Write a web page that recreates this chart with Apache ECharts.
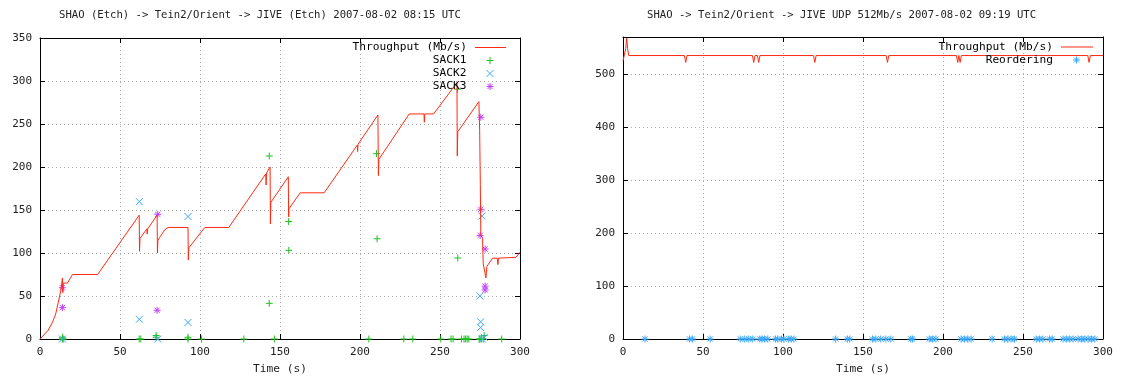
<!DOCTYPE html>
<html>
<head>
<meta charset="utf-8">
<script src="https://cdn.jsdelivr.net/npm/echarts@6/dist/echarts.min.js"></script>
<style>
html,body{margin:0;padding:0;background:#fff;}
#c{width:1121px;height:380px;}
</style>
</head>
<body>
<div id="c"></div>
<script>
// ---------- titles / labels ----------
const leftTitle = 'SHAO (Etch) -> Tein2/Orient -> JIVE (Etch) 2007-08-02 08:15 UTC';
const rightTitle = 'SHAO -> Tein2/Orient -> JIVE UDP 512Mb/s 2007-08-02 09:19 UTC';
const xName = 'Time (s)';
const throughputName = 'Throughput (Mb/s)';
const sackNames = ['SACK1', 'SACK2', 'SACK3'];
const reorderName = 'Reordering';

// ---------- left chart data: [time s, value] ----------
const leftThroughput = [[0,0],[5,10],[7.7,19],[9.8,29],[13,56],[14,71],[14.3,54],[14.6,65],[17.2,65],[20.3,75],[36,75],
  [62,144],[62.2,102],[62.5,117],[66.8,128],[67,122],[67.3,128],[73.2,144],[73.4,100],[73.7,115],[78,127],[80,129.7],
  [92.5,129.7],[92.7,92],[93,106],[103,129.7],[118,129.7],[141.1,192],[141.3,179],[141.6,193],[143.8,200],[144,134],
  [144.3,159],[155.2,188.6],[155.4,142],[155.6,151.5],[162.6,170],[177.6,170],[198.3,225.5],[198.5,218],[198.8,226.5],
  [211.2,260.5],[211.5,190],[211.8,209],[230.8,261.7],[240,261.7],[240.2,252],[240.5,261.7],[246,261.7],[260.6,298],
  [260.8,213],[261.1,241],[274.3,276],[274.8,242],[275.2,180],[275.5,121],[276.6,117],[277,88],[278.2,88],[278.7,71],
  [279.3,84.6],[282.9,94],[285.8,94],[286.2,86.5],[286.6,94],[287.8,95],[297.5,95],[300,101]];
const sack1 = [[14,0],[14.5,0],[14,2],[62,0],[63,0],[72.6,4],[72.6,2],[92.5,2],[92.5,0],[101,0],[127.4,0],[146.5,0],
  [143.3,212.8],[143.3,41.5],[155.4,136.6],[155.5,103.1],[210.3,215.5],[210.7,116.5],[205.5,0],[227.4,0],[233,0],
  [250.5,0],[256.9,0],[258.2,0],[260.9,290.5],[261.1,94.2],[263.4,0],[265,0],[266,0],[267,0],[268,0],[274.5,0],
  [275,0],[276,0],[277,0],[277.6,4],[288.6,0]];
const sack2 = [[14,0],[62.1,23],[62.1,159.7],[92.5,19.2],[92.5,142.4],[73.6,0],[276.2,143],[274.9,50],[275.4,20],
  [275.4,13.4],[277.7,2],[276.5,0]];
const sack3 = [[14,59.6],[14,36.5],[73.2,33.4],[73.6,145],[275.5,257.9],[275.5,150.8],[275.1,120.4],[278.2,104.6],
  [278.2,61.5],[278.2,57]];

// ---------- right chart data ----------
const rightThroughput = [[0,525],[1,527],[1.7,548],[2.3,568],[2.9,548],[3.6,535],[38.4,535],[39.2,522],[40,535],
  [80.9,535],[81.7,522],[82.5,535],[84,535],[84.8,522],[85.6,535],[119.1,535],[119.9,522],[120.7,535],[164.5,535],
  [165.3,522],[166.1,535],[208.4,535],[209.2,522],[209.9,535],[210.7,522],[211.5,535],[290.5,535],[291.3,522],
  [292.1,535],[300,535]];
const reorderTimes = [13.8,41.6,43.4,54.5,73.3,76.1,78.6,81.1,85.5,86.9,88.4,90.5,95.3,96.7,99.1,100.5,103.6,105.1,
  106.8,132.9,140.2,141.7,155.9,158,161.1,164.3,167.4,179.9,181,191.4,193.5,195.6,211.3,213.4,215.4,217.6,230.7,
  238.4,240.5,242.6,244.7,258.3,260.4,262.4,266.6,268.3,275,277.1,279.2,281.3,284.4,286.5,288.6,290.7,292.8,294.9];

// ---------- axes ----------
const xMax = 300, xInterval = 50;
const leftYMax = 350, leftYInterval = 50;
const rightYMax = 570, rightYInterval = 100;

const FONT = 'DejaVu Sans Mono';
const C_RED = '#ff2a10', C_GREEN = '#22c022', C_BLUE = '#38a8ff', C_MAG = '#c040ff';
const PLUS = 'path://M5,0V10M0,5H10';
const CROSS = 'path://M0,0L10,10M10,0L0,10';
const STAR = 'path://M5,0V10M0,5H10M1.3,1.3L8.7,8.7M8.7,1.3L1.3,8.7';

const lbl = {fontFamily: FONT, fontSize: 11, color: '#222'};
function mkX(grid, pos, show) {
  return {
    type: 'value', gridIndex: grid, position: pos, min: 0, max: xMax, interval: xInterval,
    axisLine: {show: true, onZero: false, lineStyle: {color: '#000', width: 1}},
    axisTick: {show: true, inside: true, length: 5, lineStyle: {color: '#000'}},
    axisLabel: Object.assign({show: show, margin: 8}, lbl),
    splitLine: {show: show, lineStyle: {color: '#aaa', type: [1, 3], width: 1}},
    name: show ? xName : '', nameLocation: 'middle', nameGap: 25,
    nameTextStyle: {fontFamily: FONT, fontSize: 11.2, color: '#222'}
  };
}
function mkY(grid, pos, show, max, interval) {
  return {
    type: 'value', gridIndex: grid, position: pos, min: 0, max: max, interval: interval,
    axisLine: {show: true, onZero: false, lineStyle: {color: '#000', width: 1}},
    axisTick: {show: true, inside: true, length: 5, lineStyle: {color: '#000'}},
    axisLabel: Object.assign({show: show, margin: 8, showMaxLabel: max % interval === 0}, lbl),
    splitLine: {show: show, lineStyle: {color: '#aaa', type: [1, 3], width: 1}}
  };
}
function scatter(name, data, symbol, color, xi, yi) {
  return {
    type: 'scatter', name: name, data: data, xAxisIndex: xi, yAxisIndex: yi,
    symbol: symbol, symbolSize: 7, clip: false, silent: true, animation: false,
    itemStyle: {color: 'none', borderColor: color, borderWidth: 1, opacity: 1}
  };
}
const legText = {fontFamily: FONT, fontSize: 11.2, color: '#000'};

const chart = echarts.init(document.getElementById('c'), null, {renderer: 'canvas'});
chart.setOption({
  backgroundColor: '#fff',
  animation: false,
  title: [
    {text: leftTitle, left: 59, top: 10, padding: 0, textStyle: {fontFamily: FONT, fontSize: 10.6, fontWeight: 'normal', color: '#222'}},
    {text: rightTitle, left: 647, top: 10, padding: 0, textStyle: {fontFamily: FONT, fontSize: 10.6, fontWeight: 'normal', color: '#222'}}
  ],
  grid: [
    {left: 40, width: 480, top: 38, bottom: 38, containLabel: false},
    {left: 623, width: 480, top: 37, bottom: 38, containLabel: false}
  ],
  xAxis: [mkX(0, 'bottom', true), mkX(0, 'top', false), mkX(1, 'bottom', true), mkX(1, 'top', false)],
  yAxis: [mkY(0, 'left', true, leftYMax, leftYInterval), mkY(0, 'right', false, leftYMax, leftYInterval),
          mkY(1, 'left', true, rightYMax, rightYInterval), mkY(1, 'right', false, rightYMax, rightYInterval)],
  legend: [
    {data: [{name: throughputName, icon: 'rect'}], orient: 'vertical', align: 'right', right: 615, top: 42, padding: 0,
     itemWidth: 31, itemHeight: 1, selectedMode: false,
     textStyle: Object.assign({padding: [0, 3, 0, 0]}, legText)},
    {data: sackNames, orient: 'vertical', align: 'right', right: 625, top: 54.5, padding: 0, itemGap: 1,
     itemWidth: 7, itemHeight: 7, selectedMode: false, symbolKeepAspect: true,
     itemStyle: {borderWidth: 1},
     textStyle: Object.assign({padding: [0, 15, 0, 0]}, legText)},
    {data: [{name: throughputName, icon: 'rect'}], orient: 'vertical', align: 'right', right: 28, top: 41.5, padding: 0,
     itemWidth: 32, itemHeight: 1, selectedMode: false,
     textStyle: Object.assign({padding: [0, 3, 0, 0]}, legText)},
    {data: [reorderName], orient: 'vertical', align: 'right', right: 38.5, top: 54, padding: 0,
     itemWidth: 7, itemHeight: 7, selectedMode: false, symbolKeepAspect: true,
     itemStyle: {borderWidth: 1},
     textStyle: Object.assign({padding: [0, 15, 0, 0]}, legText)}
  ],
  series: [
    {type: 'line', name: throughputName, data: leftThroughput, xAxisIndex: 0, yAxisIndex: 0,
     symbol: 'none', showSymbol: false, lineStyle: {color: C_RED, width: 1}, itemStyle: {color: C_RED}, silent: true},
    scatter(sackNames[0], sack1, PLUS, C_GREEN, 0, 0),
    scatter(sackNames[1], sack2, CROSS, C_BLUE, 0, 0),
    scatter(sackNames[2], sack3, STAR, C_MAG, 0, 0),
    {type: 'line', name: throughputName, data: rightThroughput, xAxisIndex: 2, yAxisIndex: 2,
     symbol: 'none', showSymbol: false, lineStyle: {color: C_RED, width: 1}, itemStyle: {color: C_RED}, silent: true},
    scatter(reorderName, reorderTimes.map(t => [t, 0]), STAR, C_BLUE, 2, 2)
  ]
});
</script>
</body>
</html>
